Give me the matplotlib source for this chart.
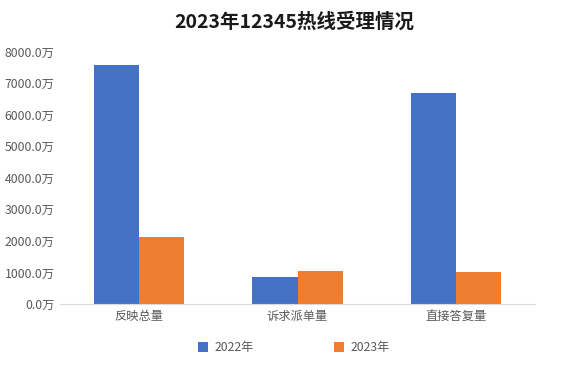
import matplotlib
matplotlib.use('Agg')
import matplotlib.pyplot as plt
import numpy as np

plt.rcParams['font.family'] = ['Noto Sans CJK SC', 'DejaVu Sans']

categories = ['反映总量', '诉求派单量', '直接答复量']
series_names = ['2022年', '2023年']
v2022 = [7560, 860, 6680]
v2023 = [2120, 1040, 1010]
yticks = [0, 1000, 2000, 3000, 4000, 5000, 6000, 7000, 8000]

BLUE = '#4472C4'
ORANGE = '#ED7D31'
TXT = '#595959'

fig = plt.figure(figsize=(5.88, 3.68), dpi=100)
ax = fig.add_axes([60 / 588, 0.174, 475 / 588, 0.686])

x = np.arange(len(categories))
w = 0.285
ax.bar(x - w / 2, v2022, w, color=BLUE, label=series_names[0])
ax.bar(x + w / 2, v2023, w, color=ORANGE, label=series_names[1])

ax.set_xlim(-0.5, 2.5)
ax.set_ylim(0, 8000)
ax.set_yticks(yticks)
ax.set_yticklabels([f'{v:.1f}万' for v in yticks], fontsize=8.8, color=TXT)
ax.set_xticks(x)
ax.set_xticklabels(categories, fontsize=8.8, color=TXT)
ax.tick_params(length=0, pad=4)
for s in ['top', 'right', 'left']:
    ax.spines[s].set_visible(False)
ax.spines['bottom'].set_color('#D9D9D9')

fig.text(0.5, 0.94, '2023年12345热线受理情况', ha='center', va='center',
         fontsize=14, weight='semibold', color='#1a1a1a')
fig.legend(loc='center', bbox_to_anchor=(0.5, 0.055), ncol=2, frameon=False,
           fontsize=8.8, handlelength=0.8, handleheight=0.8, columnspacing=6.6,
           handletextpad=0.5, labelcolor=TXT)

fig.savefig('out.png', dpi=100)
